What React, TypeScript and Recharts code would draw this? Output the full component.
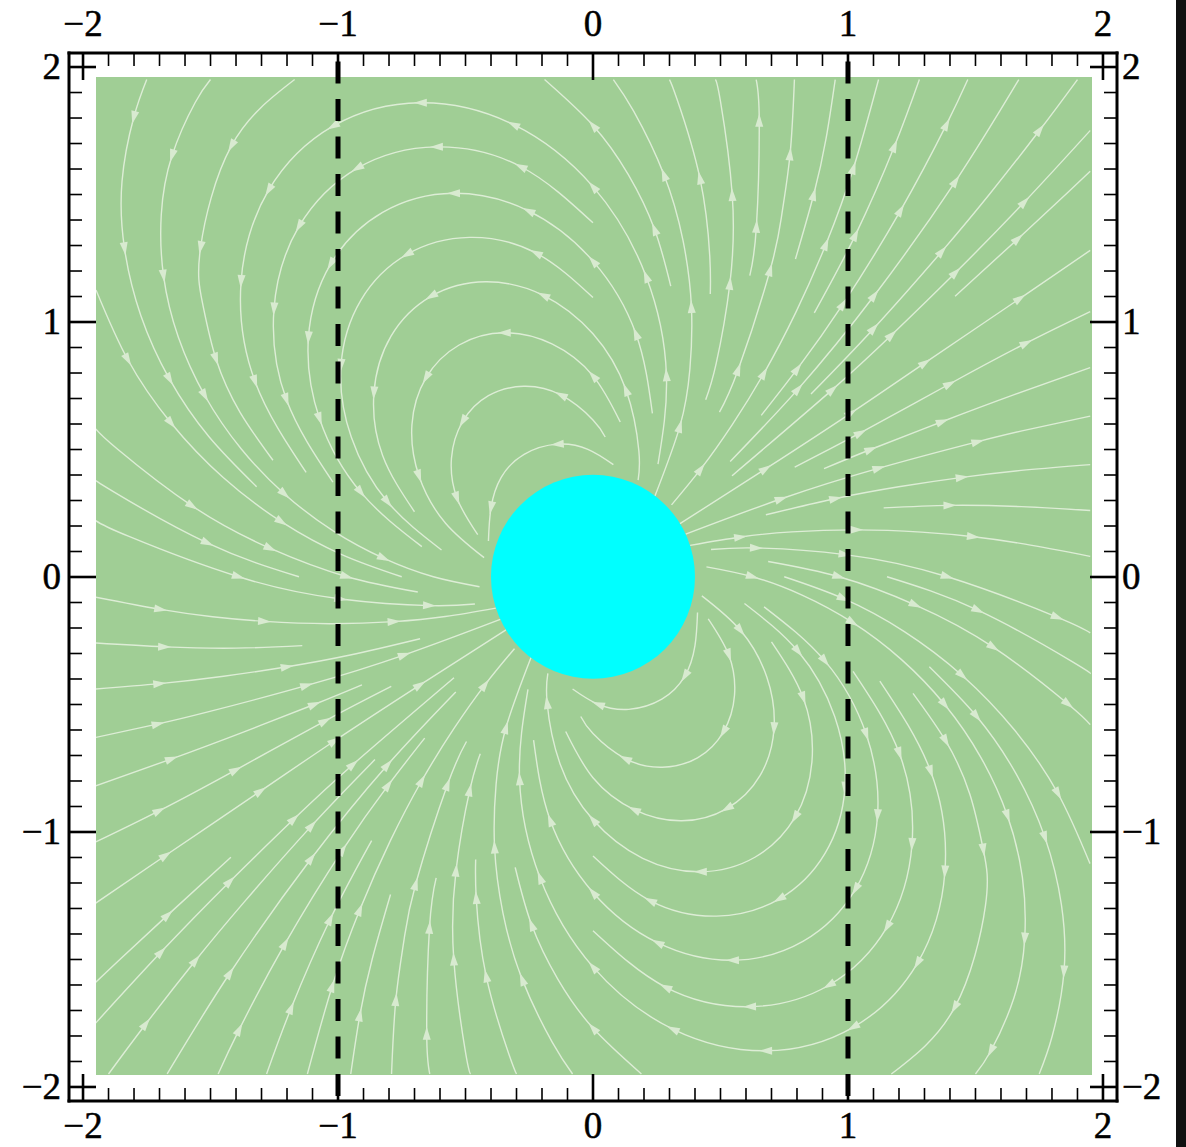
import { Scatter, ScatterChart, XAxis, YAxis } from "recharts";

type Pt = [number, number];

// ---- streamlines, upper half (tail -> head, in flow direction) ----
const loopsUpper: Pt[][] = [
  [[0.08, 0.44], [-0.02, 0.5], [-0.14, 0.52], [-0.27, 0.48], [-0.36, 0.39], [-0.4, 0.27], [-0.41, 0.14]],
  [[0.048, 0.548], [0, 0.615], [-0.126, 0.713], [-0.272, 0.747], [-0.41, 0.71], [-0.511, 0.609], [-0.555, 0.465], [-0.533, 0.308], [-0.452, 0.165]],
  [[0.107, 0.607], [0, 0.788], [-0.161, 0.913], [-0.348, 0.957], [-0.525, 0.909], [-0.655, 0.78], [-0.71, 0.596], [-0.682, 0.394], [-0.579, 0.211], [-0.427, 0.075]],
  [[0.177, 0.379], [0.18, 0.493], [0.129, 0.734], [0, 0.953], [-0.195, 1.104], [-0.421, 1.157], [-0.635, 1.1], [-0.792, 0.944], [-0.859, 0.721], [-0.825, 0.476], [-0.7, 0.255]],
  [[0, 1.095], [-0.224, 1.27], [-0.484, 1.331], [-0.73, 1.264], [-0.91, 1.085], [-0.988, 0.829], [-0.948, 0.548], [-0.805, 0.293], [-0.594, 0.105]],
  [[0.233, 0.641], [0.168, 0.954], [0, 1.238], [-0.253, 1.435], [-0.547, 1.504], [-0.825, 1.429], [-1.029, 1.226], [-1.116, 0.937], [-1.072, 0.619], [-0.91, 0.331], [-0.671, 0.118]],
  [[0, 1.388], [-0.284, 1.609], [-0.614, 1.686], [-0.925, 1.602], [-1.153, 1.374], [-1.251, 1.05], [-1.202, 0.694], [-1.02, 0.371]],
  [[0.255, 0.442], [0.288, 0.792], [0.208, 1.179], [0, 1.53], [-0.313, 1.774], [-0.677, 1.859], [-1.02, 1.767], [-1.272, 1.516], [-1.38, 1.158], [-1.325, 0.765], [-1.125, 0.409]],
];

const inTopUpper: Pt[][] = [
  [[-1.17, 1.95], [-1.418, 1.69], [-1.539, 1.291], [-1.531, 1.072], [-1.478, 0.853], [-1.384, 0.645], [-1.255, 0.457]],
  [[-1.5, 1.95], [-1.56, 1.86], [-1.651, 1.651], [-1.693, 1.421], [-1.684, 1.179], [-1.626, 0.939], [-1.522, 0.71], [-1.38, 0.502], [-1.209, 0.324], [-1.019, 0.18], [-0.82, 0.072], [-0.626, 0], [-0.445, -0.039]],
  [[-1.75, 1.95], [-1.801, 1.801], [-1.847, 1.55], [-1.837, 1.286], [-1.773, 1.024], [-1.66, 0.774], [-1.505, 0.548], [-1.319, 0.353]],
];

const inLeftUpper: Pt[][] = [
  [[-1.949, 1.125], [-1.824, 0.851], [-1.654, 0.602], [-1.449, 0.388], [-1.221, 0.215], [-0.983, 0.086], [-0.75, 0]],
  [[-1.95, 0.58], [-1.864, 0.5], [-1.571, 0.277], [-1.265, 0.111], [-0.965, 0], [-0.687, -0.06]],
  [[-1.95, 0.38], [-1.876, 0.331], [-1.511, 0.132], [-1.153, 0]],
  [[-1.95, 0.22], [-1.822, 0.159], [-1.39, 0], [-0.989, -0.087], [-0.641, -0.113], [-0.463, -0.107]],
];

const outTopUpper: Pt[][] = [
  [[0.305, 1.14], [0.241, 1.364], [0.138, 1.578], [0, 1.77], [-0.19, 1.95]],
  [[0.243, 0.317], [0.341, 0.591], [0.38, 0.814], [0.386, 1.06], [0.353, 1.319], [0.278, 1.578], [0.16, 1.825], [0.08, 1.95]],
  [[0.46, 1.109], [0.458, 1.258], [0.419, 1.565], [0.33, 1.872], [0.3, 1.95]],
  [[0.442, 0.694], [0.483, 0.836], [0.537, 1.151], [0.546, 1.499], [0.5, 1.864], [0.48, 1.95]],
  [[0.615, 1.181], [0.641, 1.375], [0.652, 1.79], [0.64, 1.95]],
  [[0.496, 0.646], [0.57, 0.814], [0.695, 1.204], [0.741, 1.424], [0.773, 1.658], [0.79, 1.95]],
  [[0.794, 1.246], [0.866, 1.5], [0.914, 1.718], [0.95, 1.95]],
  [[0.308, 0.282], [0.423, 0.423], [0.545, 0.595], [0.671, 0.799], [0.795, 1.036], [0.914, 1.305], [1.022, 1.604], [1.12, 1.95]],
  [[0.868, 1.035], [1.03, 1.342], [1.183, 1.69], [1.28, 1.95]],
  [[0.66, 0.633], [0.802, 0.816], [0.981, 1.07], [1.207, 1.438], [1.387, 1.775], [1.47, 1.95]],
  [[0.538, 0.452], [0.805, 0.737], [1.104, 1.104], [1.423, 1.553], [1.67, 1.95]],
  [[0.855, 0.717], [1.102, 0.975], [1.369, 1.277], [1.558, 1.504], [1.753, 1.753], [1.9, 1.95]],
  [[0.545, 0.396], [0.94, 0.735], [1.172, 0.949], [1.423, 1.194], [1.693, 1.471], [1.95, 1.75]],
  [[1.42, 1.1], [1.667, 1.326], [1.864, 1.509], [1.95, 1.59]],
  [[0.341, 0.208], [0.678, 0.424], [1.013, 0.643], [1.303, 0.84], [1.675, 1.092], [1.95, 1.28]],
];

const outRightUpper: Pt[][] = [
  [[0.791, 0.43], [1.05, 0.565], [1.4, 0.757], [1.7, 0.917], [1.95, 1.04]],
  [[0.906, 0.424], [1.091, 0.5], [1.371, 0.609], [1.652, 0.714], [1.95, 0.82]],
  [[0.363, 0.167], [0.739, 0.306], [1.122, 0.426], [1.51, 0.53], [1.705, 0.577], [1.95, 0.63]],
  [[0.678, 0.243], [0.952, 0.307], [1.199, 0.353], [1.448, 0.39], [1.699, 0.419], [1.95, 0.44]],
  [[1.14, 0.27], [1.4, 0.28], [1.68, 0.275], [1.95, 0.26]],
  [[0.381, 0.123], [0.579, 0.156], [0.78, 0.176], [1.034, 0.184], [1.288, 0.175], [1.492, 0.157], [1.695, 0.128], [1.95, 0.08]],
];

// ---- streamlines, lower half (the plot is point-symmetric) ----
const loopsLower: Pt[][] = [
  [[0.41, -0.14], [0.4, -0.27], [0.36, -0.39], [0.27, -0.48], [0.14, -0.52], [0.02, -0.5], [-0.08, -0.44]],
  [[0.452, -0.165], [0.533, -0.308], [0.555, -0.465], [0.511, -0.609], [0.41, -0.71], [0.272, -0.747], [0.126, -0.713], [0, -0.615], [-0.048, -0.548]],
  [[0.427, -0.075], [0.579, -0.211], [0.682, -0.394], [0.71, -0.596], [0.655, -0.78], [0.525, -0.909], [0.348, -0.957], [0.161, -0.913], [0, -0.788], [-0.107, -0.607]],
  [[0.7, -0.255], [0.825, -0.476], [0.859, -0.721], [0.792, -0.944], [0.635, -1.1], [0.421, -1.157], [0.195, -1.104], [0, -0.953], [-0.129, -0.734], [-0.18, -0.493], [-0.177, -0.379]],
  [[0.594, -0.105], [0.805, -0.293], [0.948, -0.548], [0.988, -0.829], [0.91, -1.085], [0.73, -1.264], [0.484, -1.331], [0.224, -1.27], [0, -1.095]],
  [[0.671, -0.118], [0.91, -0.331], [1.072, -0.619], [1.116, -0.937], [1.029, -1.226], [0.825, -1.429], [0.547, -1.504], [0.253, -1.435], [0, -1.238], [-0.168, -0.954], [-0.233, -0.641]],
  [[1.02, -0.371], [1.202, -0.694], [1.251, -1.05], [1.153, -1.374], [0.925, -1.602], [0.614, -1.686], [0.284, -1.609], [0, -1.388]],
  [[1.125, -0.409], [1.325, -0.765], [1.38, -1.158], [1.272, -1.516], [1.02, -1.767], [0.677, -1.859], [0.313, -1.774], [0, -1.53], [-0.208, -1.179], [-0.288, -0.792], [-0.255, -0.442]],
];

const outBottomLower: Pt[][] = [
  [[1.255, -0.457], [1.384, -0.645], [1.478, -0.853], [1.531, -1.072], [1.539, -1.291], [1.418, -1.69], [1.17, -1.95]],
  [[0.445, 0.039], [0.626, 0], [0.82, -0.072], [1.019, -0.18], [1.209, -0.324], [1.38, -0.502], [1.522, -0.71], [1.626, -0.939], [1.684, -1.179], [1.693, -1.421], [1.651, -1.651], [1.56, -1.86], [1.5, -1.95]],
  [[1.319, -0.353], [1.505, -0.548], [1.66, -0.774], [1.773, -1.024], [1.837, -1.286], [1.847, -1.55], [1.801, -1.801], [1.75, -1.95]],
];

const outRightLower: Pt[][] = [
  [[0.75, 0], [0.983, -0.086], [1.221, -0.215], [1.449, -0.388], [1.654, -0.602], [1.824, -0.851], [1.949, -1.125]],
  [[0.687, 0.06], [0.965, 0], [1.265, -0.111], [1.571, -0.277], [1.864, -0.5], [1.95, -0.58]],
  [[1.153, 0], [1.511, -0.132], [1.876, -0.331], [1.95, -0.38]],
  [[0.463, 0.107], [0.641, 0.113], [0.989, 0.087], [1.39, 0], [1.822, -0.159], [1.95, -0.22]],
];

const inBottomLower: Pt[][] = [
  [[0.19, -1.95], [0, -1.77], [-0.138, -1.578], [-0.241, -1.364], [-0.305, -1.14]],
  [[-0.08, -1.95], [-0.16, -1.825], [-0.278, -1.578], [-0.353, -1.319], [-0.386, -1.06], [-0.38, -0.814], [-0.341, -0.591], [-0.243, -0.317]],
  [[-0.3, -1.95], [-0.33, -1.872], [-0.419, -1.565], [-0.458, -1.258], [-0.46, -1.109]],
  [[-0.48, -1.95], [-0.5, -1.864], [-0.546, -1.499], [-0.537, -1.151], [-0.483, -0.836], [-0.442, -0.694]],
  [[-0.64, -1.95], [-0.652, -1.79], [-0.641, -1.375], [-0.615, -1.181]],
  [[-0.79, -1.95], [-0.773, -1.658], [-0.741, -1.424], [-0.695, -1.204], [-0.57, -0.814], [-0.496, -0.646]],
  [[-0.95, -1.95], [-0.914, -1.718], [-0.866, -1.5], [-0.794, -1.246]],
  [[-1.12, -1.95], [-1.022, -1.604], [-0.914, -1.305], [-0.795, -1.036], [-0.671, -0.799], [-0.545, -0.595], [-0.423, -0.423], [-0.308, -0.282]],
  [[-1.28, -1.95], [-1.183, -1.69], [-1.03, -1.342], [-0.868, -1.035]],
  [[-1.47, -1.95], [-1.387, -1.775], [-1.207, -1.438], [-0.981, -1.07], [-0.802, -0.816], [-0.66, -0.633]],
  [[-1.67, -1.95], [-1.423, -1.553], [-1.104, -1.104], [-0.805, -0.737], [-0.538, -0.452]],
  [[-1.9, -1.95], [-1.753, -1.753], [-1.558, -1.504], [-1.369, -1.277], [-1.102, -0.975], [-0.855, -0.717]],
  [[-1.95, -1.75], [-1.693, -1.471], [-1.423, -1.194], [-1.172, -0.949], [-0.94, -0.735], [-0.545, -0.396]],
  [[-1.95, -1.59], [-1.864, -1.509], [-1.667, -1.326], [-1.42, -1.1]],
  [[-1.95, -1.28], [-1.675, -1.092], [-1.303, -0.84], [-1.013, -0.643], [-0.678, -0.424], [-0.341, -0.208]],
];

const inLeftLower: Pt[][] = [
  [[-1.95, -1.04], [-1.7, -0.917], [-1.4, -0.757], [-1.05, -0.565], [-0.791, -0.43]],
  [[-1.95, -0.82], [-1.652, -0.714], [-1.371, -0.609], [-1.091, -0.5], [-0.906, -0.424]],
  [[-1.95, -0.63], [-1.705, -0.577], [-1.51, -0.53], [-1.122, -0.426], [-0.739, -0.306], [-0.363, -0.167]],
  [[-1.95, -0.44], [-1.699, -0.419], [-1.448, -0.39], [-1.199, -0.353], [-0.952, -0.307], [-0.678, -0.243]],
  [[-1.95, -0.26], [-1.68, -0.275], [-1.4, -0.28], [-1.14, -0.27]],
  [[-1.95, -0.08], [-1.695, -0.128], [-1.492, -0.157], [-1.288, -0.175], [-1.034, -0.184], [-0.78, -0.176], [-0.579, -0.156], [-0.381, -0.123]],
];

// ---- axes / reference marks ----
const minorTicks = [
  -2, -1.9, -1.8, -1.7, -1.6, -1.5, -1.4, -1.3, -1.2, -1.1,
  -1, -0.9, -0.8, -0.7, -0.6, -0.5, -0.4, -0.3, -0.2, -0.1,
  0, 0.1, 0.2, 0.3, 0.4, 0.5, 0.6, 0.7, 0.8, 0.9,
  1, 1.1, 1.2, 1.3, 1.4, 1.5, 1.6, 1.7, 1.8, 1.9, 2,
];
const majorTicks = [-2, -1, 0, 1, 2];
const tickLabels = ["\u22122", "\u22121", "0", "1", "2"];
const dashedAt = [-1, 1];
const obstacle = [{ x: 0, y: 0 }];
const obstacleRadius = 0.4;

const FRAME_DOMAIN: [number, number] = [-2.055, 2.055];
const FIELD_X: [number, number] = [-1.949, 1.957];
const FIELD_Y: [number, number] = [-1.954, 1.96];
const FIELD_W = 996;
const FIELD_H = 998;

const GREEN = "#a0ce95";
const STREAM = "#ddedd6";
const ARROW = "#d8ead0";
const FONT = "'Liberation Serif', 'Times New Roman', serif";
const FS = 37;

const allLines = [
  ...loopsUpper, ...inTopUpper, ...inLeftUpper, ...outTopUpper, ...outRightUpper,
  ...loopsLower, ...outBottomLower, ...outRightLower, ...inBottomLower, ...inLeftLower,
];

// arrowheads sit on line points, roughly every 0.3 units of length
function withArrows(line: Pt[]) {
  const pts = line.map(([x, y]) => ({ x, y, arrow: false, ang: 0 }));
  const seg = (i: number) => Math.hypot(line[i][0] - line[i - 1][0], line[i][1] - line[i - 1][1]);
  let total = 0;
  for (let i = 1; i < line.length; i++) total += seg(i);
  let acc = 0;
  let last = -1;
  for (let i = 1; i < line.length - 1; i++) {
    acc += seg(i);
    if (acc >= 0.15 && total - acc >= 0.1 && (last < 0 || acc - last >= 0.3)) {
      const dx = line[i + 1][0] - line[i - 1][0];
      const dy = line[i + 1][1] - line[i - 1][1];
      pts[i].arrow = true;
      pts[i].ang = (Math.atan2(-dy, dx) * 180) / Math.PI;
      last = acc;
    }
  }
  return pts;
}

const series = allLines.map(withArrows);

const ArrowHead = (p: any) => {
  if (!p.payload || !p.payload.arrow) return <g />;
  return (
    <polygon
      points="6.5,0 -6.5,-4 -6.5,4"
      fill={ARROW}
      transform={`translate(${p.cx},${p.cy}) rotate(${p.payload.ang})`}
    />
  );
};

const Nothing = () => <g />;

const isMajor = (v: number) => majorTicks.indexOf(v) >= 0;
const labelOf = (v: number) => tickLabels[majorTicks.indexOf(v)];

const Label = (props: { x: number; y: number; anchor: "start" | "middle" | "end"; v: number }) => (
  <text
    x={props.x}
    y={props.y}
    textAnchor={props.anchor}
    fontSize={FS}
    fontFamily={FONT}
    fill="#000"
    stroke="#000"
    strokeWidth={0.5}
  >
    {labelOf(props.v)}
  </text>
);

const TopTick = ({ x, y, payload }: any) => {
  const major = isMajor(payload.value);
  return (
    <g>
      <line x1={x} y1={y} x2={x} y2={y + (major ? 27 : 13)} stroke="#000" strokeWidth={major ? 2.6 : 1.6} />
      {major && <Label x={x} y={y - 17} anchor="middle" v={payload.value} />}
    </g>
  );
};

const BottomTick = ({ x, y, payload }: any) => {
  const major = isMajor(payload.value);
  return (
    <g>
      <line x1={x} y1={y} x2={x} y2={y - (major ? 27 : 13)} stroke="#000" strokeWidth={major ? 2.6 : 1.6} />
      {major && <Label x={x} y={y + 37} anchor="middle" v={payload.value} />}
    </g>
  );
};

const LeftTick = ({ x, y, payload }: any) => {
  const major = isMajor(payload.value);
  return (
    <g>
      <line x1={x} y1={y} x2={x + (major ? 27 : 13)} y2={y} stroke="#000" strokeWidth={major ? 2.6 : 1.6} />
      {major && <Label x={x - 8} y={y + 12} anchor="end" v={payload.value} />}
    </g>
  );
};

const RightTick = ({ x, y, payload }: any) => {
  const major = isMajor(payload.value);
  return (
    <g>
      <line x1={x} y1={y} x2={x - (major ? 27 : 13)} y2={y} stroke="#000" strokeWidth={major ? 2.6 : 1.6} />
      {major && <Label x={x + 5} y={y + 12} anchor="start" v={payload.value} />}
    </g>
  );
};

const frameAxis = {
  type: "number" as const,
  domain: FRAME_DOMAIN,
  allowDataOverflow: true,
  ticks: minorTicks,
  interval: 0 as const,
  tickLine: false,
  tickSize: 0,
  tickMargin: 0,
  axisLine: { stroke: "#000", strokeWidth: 3, strokeLinecap: "square" as const },
};

export default function App() {
  const r = (obstacleRadius * FIELD_W) / (FIELD_X[1] - FIELD_X[0]);
  return (
    <div style={{ position: "absolute", left: 0, top: 0, width: 1186, height: 1147, background: "#fff" }}>
      <div style={{ position: "absolute", left: 96, top: 77, width: FIELD_W, height: FIELD_H, background: GREEN }}>
        <ScatterChart width={FIELD_W} height={FIELD_H} margin={{ top: 0, right: 0, bottom: 0, left: 0 }}>
          <XAxis type="number" dataKey="x" domain={FIELD_X} allowDataOverflow hide />
          <YAxis type="number" dataKey="y" domain={FIELD_Y} allowDataOverflow hide />
          {series.map((d, i) => (
            <Scatter
              key={i}
              data={d}
              line={{ stroke: STREAM, strokeWidth: 1.4 }}
              lineType="joint"
              lineJointType="natural"
              shape={ArrowHead}
              isAnimationActive={false}
            />
          ))}
          <Scatter
            data={obstacle}
            shape={(p: any) => <circle cx={p.cx} cy={p.cy} r={r} fill="#00ffff" />}
            isAnimationActive={false}
          />
        </ScatterChart>
      </div>

      <div style={{ position: "absolute", left: 0, top: 0 }}>
        <ScatterChart width={1186} height={1147} margin={{ top: 13, right: 9, bottom: 6, left: 9 }}>
          <XAxis xAxisId="top" orientation="top" height={40} dataKey="x" {...frameAxis} tick={TopTick} />
          <XAxis xAxisId="bottom" orientation="bottom" height={40} dataKey="x" {...frameAxis} tick={BottomTick} />
          <YAxis yAxisId="left" orientation="left" width={60} dataKey="y" {...frameAxis} tick={LeftTick} />
          <YAxis yAxisId="right" orientation="right" width={60} dataKey="y" {...frameAxis} tick={RightTick} />
          {dashedAt.map((v, i) => (
            <Scatter
              key={v}
              xAxisId={i === 0 ? "bottom" : "top"}
              yAxisId={i === 0 ? "left" : "right"}
              data={[
                { x: v, y: FRAME_DOMAIN[1] },
                { x: v, y: FRAME_DOMAIN[0] },
              ]}
              line={{ stroke: "#000", strokeWidth: 5, strokeDasharray: "22 15.5", strokeDashoffset: 29 }}
              lineType="joint"
              shape={Nothing}
              isAnimationActive={false}
            />
          ))}
        </ScatterChart>
      </div>

      <div style={{ position: "absolute", left: 1176, top: 0, width: 10, height: 1147, background: "#111" }} />
    </div>
  );
}
